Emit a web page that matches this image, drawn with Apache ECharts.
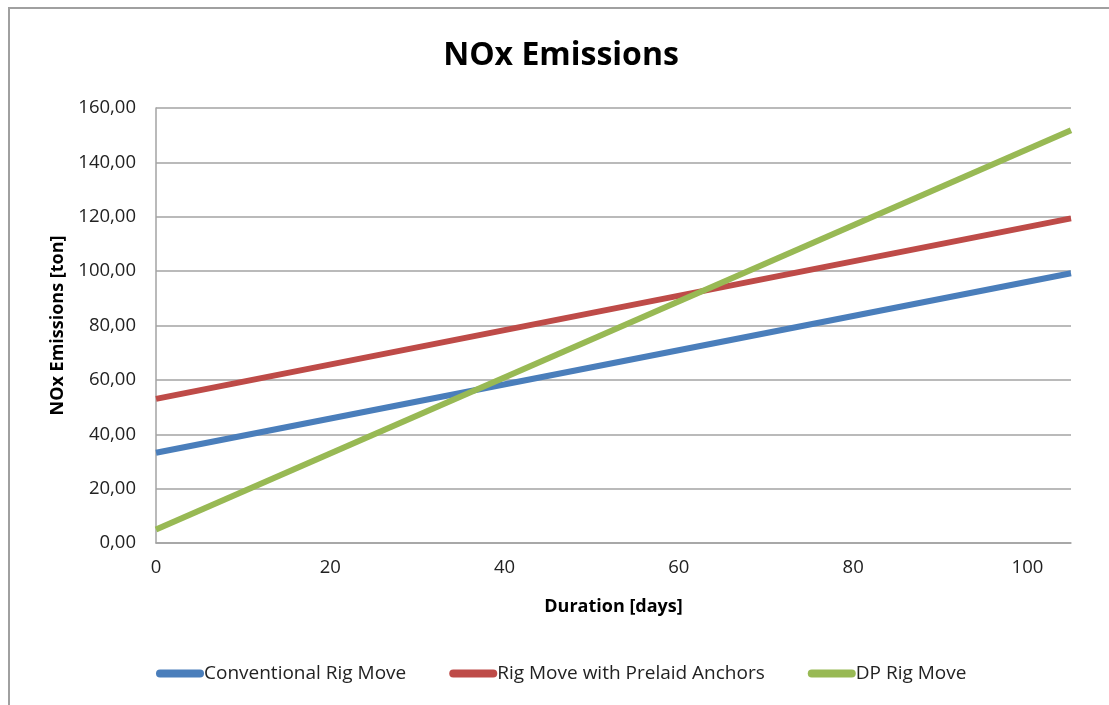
<!DOCTYPE html>
<html>
<head>
<meta charset="utf-8">
<title>NOx Emissions</title>
<script src="https://cdn.jsdelivr.net/npm/echarts@6/dist/echarts.min.js"></script>
<style>
  html, body { margin: 0; padding: 0; background: #fff; }
  #chart { width: 1109px; height: 705px; }
</style>
</head>
<body>
<div id="chart"></div>
<script>
// Emission estimates over rig-move duration (days -> tons of NOx)
const seriesNames = ['Conventional Rig Move', 'Rig Move with Prelaid Anchors', 'DP Rig Move'];
const durationDays = [0, 105];
const conventional = [33.2, 99.2];
const prelaid = [53.0, 119.4];
const dpMove = [5.0, 151.8];
const yTicks = [0, 20, 40, 60, 80, 100, 120, 140, 160];

const colors = ['#4A7EBB', '#BE4B48', '#98B954'];
const font = '"Open Sans", sans-serif';
const gridGray = '#a3a3a3';

function pairs(xs, ys) { return xs.map((x, i) => [x, ys[i]]); }

const chart = echarts.init(document.getElementById('chart'), null, { renderer: 'canvas' });

const legendIcon = 'path://M4,0 H44 A4,4 0 0 1 44,8 H4 A4,4 0 0 1 4,0 Z';

chart.setOption({
  animation: false,
  backgroundColor: '#fff',
  color: colors,
  title: {
    text: 'NOx Emissions',
    left: 556, textAlign: 'center',
    top: 35,
    textStyle: { fontFamily: font, fontSize: 32, fontWeight: 'bold', color: '#000' }
  },
  graphic: [{
    type: 'rect',
    shape: { x: 9, y: 8, width: 1300, height: 900 },
    style: { fill: null, stroke: '#a0a0a0', lineWidth: 2 },
    silent: true
  }],
  legend: {
    bottom: 22,
    left: 156,
    padding: 0,
    itemWidth: 48,
    itemHeight: 8,
    itemGap: 43,
    icon: legendIcon,
    data: seriesNames,
    textStyle: { fontFamily: font, fontSize: 19, color: '#222', padding: [0, 0, 0, -5] }
  },
  grid: { left: 156, right: 38, top: 108, bottom: 162, containLabel: false },
  xAxis: {
    type: 'value',
    min: 0, max: 105, interval: 20,
    name: 'Duration [days]',
    nameLocation: 'middle',
    nameGap: 55,
    nameTextStyle: { fontFamily: font, fontSize: 18, fontWeight: 'bold', color: '#000' },
    axisLine: { show: true, lineStyle: { color: gridGray, width: 1.5 } },
    axisTick: { show: false },
    splitLine: { show: false },
    axisLabel: {
      showMaxLabel: false,
      margin: 15,
      fontFamily: font, fontSize: 18.5, color: '#222',
      formatter: v => (v % 20 === 0 ? String(v) : '')
    }
  },
  yAxis: {
    type: 'value',
    min: yTicks[0], max: yTicks[yTicks.length - 1], interval: 20,
    name: 'NOx Emissions [ton]',
    nameLocation: 'middle',
    nameGap: 89,
    nameTextStyle: { fontFamily: font, fontSize: 18, fontWeight: 'bold', color: '#000' },
    axisLine: { show: true, lineStyle: { color: gridGray, width: 1.5 } },
    axisTick: { show: false },
    splitLine: { show: true, lineStyle: { color: gridGray, width: 1.5 } },
    axisLabel: {
      margin: 20,
      fontFamily: font, fontSize: 18.5, color: '#222',
      formatter: v => v.toFixed(2).replace('.', ',')
    }
  },
  series: [
    { name: seriesNames[0], type: 'line', data: pairs(durationDays, conventional) },
    { name: seriesNames[1], type: 'line', data: pairs(durationDays, prelaid) },
    { name: seriesNames[2], type: 'line', data: pairs(durationDays, dpMove) }
  ].map(s => Object.assign(s, {
    showSymbol: false,
    symbol: 'none',
    lineStyle: { width: 6, cap: 'butt' }
  }))
});
</script>
</body>
</html>
